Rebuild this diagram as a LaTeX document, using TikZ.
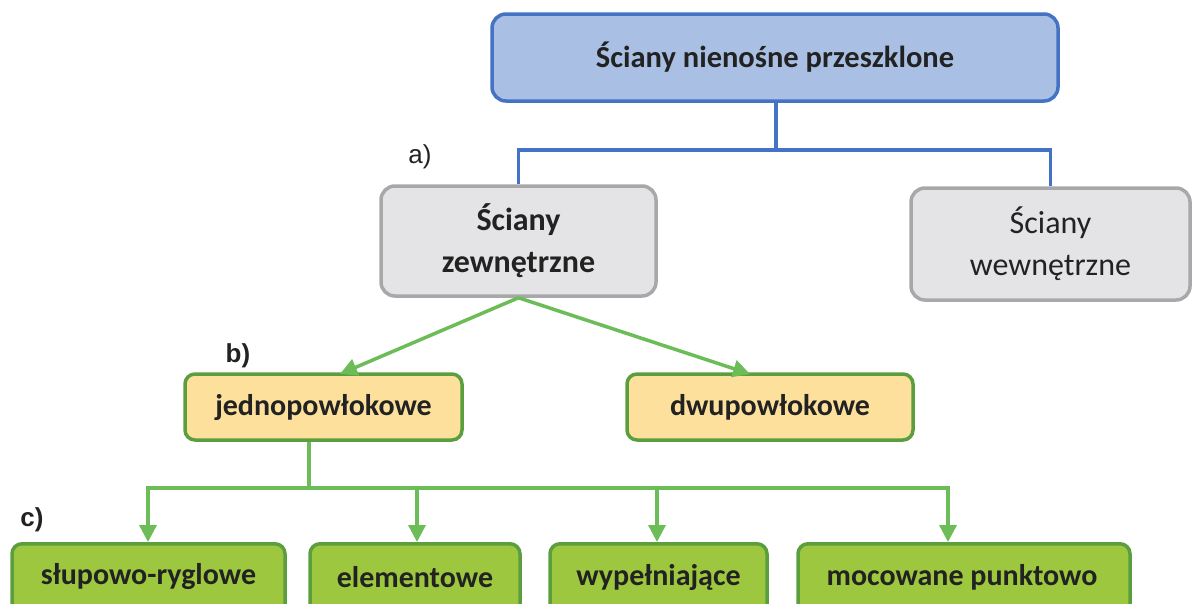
\documentclass[tikz,border=0pt]{standalone}
\usepackage{fontspec}
\setmainfont{Carlito}
\newfontfamily\labfont{Liberation Sans}
\usetikzlibrary{arrows.meta}
\definecolor{topfill}{HTML}{A9C0E4}
\definecolor{topdraw}{HTML}{4472C4}
\definecolor{grayfill}{HTML}{E4E4E6}
\definecolor{graydraw}{HTML}{A8A8AA}
\definecolor{yelfill}{HTML}{FCE09B}
\definecolor{boxgreen}{HTML}{5A9E3E}
\definecolor{greenfill}{HTML}{9CC73E}
\definecolor{arrgreen}{HTML}{6CBC58}
\definecolor{txt}{HTML}{222222}
\tikzset{
  box/.style={rounded corners=10pt, line width=3.5pt, inner sep=0pt, text=txt, align=center},
  topbox/.style={box, fill=topfill, draw=topdraw, rounded corners=14pt, font=\fontsize{30.5}{36}\selectfont\bfseries},
  graybox/.style={box, fill=grayfill, draw=graydraw, rounded corners=14pt, font=\fontsize{32}{42}\selectfont},
  yelbox/.style={box, fill=yelfill, draw=boxgreen, font=\fontsize{30}{36}\selectfont\bfseries},
  grbox/.style={box, fill=greenfill, draw=boxgreen},
  grtext/.style={font=\fontsize{30}{36}\selectfont\bfseries, text=txt, inner sep=0pt},
  bline/.style={draw=topdraw, line width=3.5pt},
  gline/.style={draw=arrgreen, line width=3.5pt},
  garr/.style={gline, -{Triangle[length=17pt,width=17pt]}},
  lab/.style={font=\labfont\fontsize{26}{30}\selectfont, text=txt, inner sep=0pt}
}
\begin{document}
\begin{tikzpicture}[x=1pt,y=-1pt]
\useasboundingbox (0,0) rectangle (1193,603);
\clip (0,0) rectangle (1193,603);
% top
\node[topbox, minimum width=566pt, minimum height=87pt] (top) at (775,57.5) {Ściany nienośne przeszklone};
% gray
\node[graybox, minimum width=275pt, minimum height=110pt] (zew) at (518.5,241) {\bfseries Ściany\\\bfseries zewnętrzne};
\node[graybox, minimum width=279pt, minimum height=112pt] (wew) at (1050.5,244) {Ściany\\wewnętrzne};
% yellow
\node[yelbox, minimum width=277pt, minimum height=66pt] (jed) at (323.5,407) {jednopowłokowe};
\node[yelbox, minimum width=286pt, minimum height=66pt] (dwu) at (770,407) {dwupowłokowe};
% green
\node[grbox, minimum width=273pt, minimum height=74pt, anchor=north] (slu) at (148.5,542) {};
\node[grbox, minimum width=210pt, minimum height=74pt, anchor=north] (ele) at (415,542) {};
\node[grbox, minimum width=217pt, minimum height=74pt, anchor=north] (wyp) at (658.5,542) {};
\node[grbox, minimum width=332pt, minimum height=74pt, anchor=north] (moc) at (964,542) {};
\node[grtext] (tslu) at (148.5,577) {słupowo-ryglowe};
\node[grtext] (tele) at (415,577) {elementowe};
\node[grtext] (twyp) at (658.5,577) {wypełniające};
\node[grtext] (tmoc) at (962,577) {mocowane punktowo};
% labels
\node[lab] (la) at (420,157) {a)};
\node[lab, font=\labfont\bfseries\fontsize{26}{30}\selectfont] (lb) at (238,356) {b)};
\node[lab, font=\labfont\bfseries\fontsize{26}{30}\selectfont] (lc) at (32,520) {c)};
% blue connectors
\coordinate (bj) at (776,150);
\draw[bline] (top.south -| bj) -- (bj);
\draw[bline] (zew.north) |- (bj) -| (wew.north);
% green arrows
\draw[garr] (zew.south) -- (340,374);
\draw[garr] (zew.south) -- (750,374);
\coordinate (gj) at (309,488);
\draw[gline] (jed.south -| gj) -- (gj);
\draw[garr] (gj) -| (148,542);
\draw[garr] (gj) -| (417,542);
\draw[garr] (gj) -| (657,542);
\draw[garr] (gj) -| (948,542);
\end{tikzpicture}
\end{document}
